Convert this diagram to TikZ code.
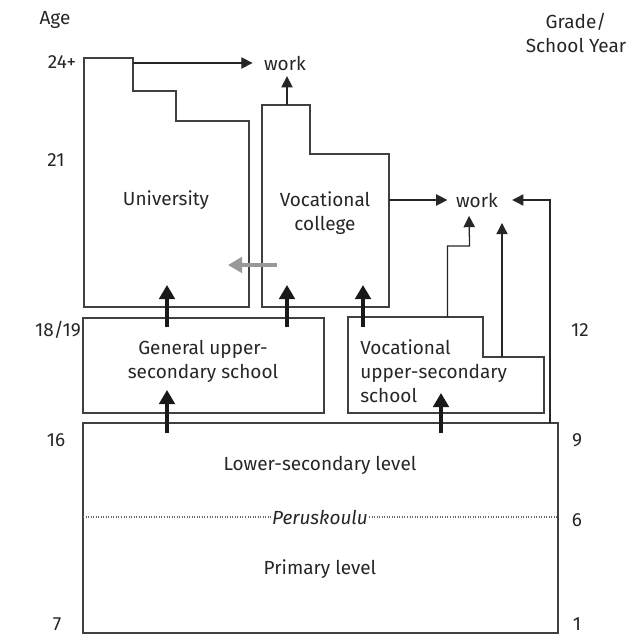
\documentclass[tikz,border=0pt]{standalone}
\usepackage{fontspec}
\setmainfont{Fira Sans}
\usetikzlibrary{arrows.meta}

\begin{document}
\begin{tikzpicture}[x=0.025cm, y=-0.025cm,
    outline/.style={draw=black!75, line width=0.9pt},
    flow/.style={draw=black!85, line width=0.9pt, -{Triangle[length=8pt,width=8pt]}},
    bigflow/.style={draw=black!90, line width=3pt, -{Triangle[length=10pt,width=11pt]}},
    greyflow/.style={draw=black!40, line width=3pt, -{Triangle[length=10pt,width=11pt]}},
    lbl/.style={text=black!85, font=\fontsize{13.5}{17}\selectfont, inner sep=0pt}]
    \useasboundingbox (0,0) rectangle (635,636);

    % Draw the school blocks
    \draw[outline] (84,307) -- (84,58) -- (133,58) -- (133,91) -- (176,91)
        -- (176,121) -- (249,121) -- (249,307) -- cycle;
    \draw[outline] (262,307) -- (262,105) -- (310,105) -- (310,154)
        -- (389,154) -- (389,307) -- cycle;
    \draw[outline] (83,318) rectangle (324,413);
    \draw[outline] (348,413) -- (348,317) -- (483,317) -- (483,357)
        -- (544,357) -- (544,413) -- cycle;
    \draw[outline] (83,423) rectangle (558,633);
    \draw[black!60, line width=0.8pt, dash pattern=on 0.6pt off 1.2pt] (83,517) -- (558,517);

    % Block labels
    \node[lbl] (uni) at (166,200) {University};
    \node[lbl, align=center] (vcol) at (325,213) {Vocational\\college};
    \node[lbl, align=center] (gen) at (203,361) {General upper-\\secondary school};
    \node[lbl, align=left, anchor=west] (voc) at (360,371) {Vocational\\upper-secondary\\school};
    \node[lbl] (lower) at (320,465) {Lower-secondary level};
    \node[lbl, fill=white, inner xsep=1pt, font=\fontsize{13.5}{17}\selectfont\itshape] (perus) at (320,517) {Peruskoulu};
    \node[lbl] (primary) at (320,569) {Primary level};

    % Work destinations
    \node[lbl] (work1) at (285,63) {work};
    \node[lbl] (work2) at (477,200) {work};

    % Connector end points
    \coordinate (uni-out) at (133,63);
    \coordinate (vcol-top) at (287,105);
    \coordinate (vcol-out) at (389,200);
    \coordinate (voc-out1) at (447.5,317);
    \coordinate (voc-out2) at (502,357);
    \coordinate (lower-out) at (550,423);
    \coordinate (gen-a) at (167,327);
    \coordinate (gen-b) at (287,327);
    \coordinate (voc-a) at (363,327);
    \coordinate (lower-a) at (167,433);
    \coordinate (lower-b) at (441,433);
    \coordinate (vcol-side) at (277,265);

    % Thin arrows to work
    \draw[flow, shorten >=8pt] (uni-out) -- (uni-out -| work1.west);
    \draw[flow, shorten >=4pt] (vcol-top) -- (vcol-top |- work1.south);
    \draw[flow, shorten >=6pt] (vcol-out) -- (vcol-out -| work2.west);
    \draw[flow, shorten >=10pt] (lower-out) |- (work2.east);
    \draw[flow, shorten >=6pt] (voc-out1) |- ++(22,-71) -- ([xshift=-2mm]work2.south);
    \draw[flow, shorten >=11pt] (voc-out2) -- (voc-out2 |- work2.south);

    % Thick arrows between levels
    \draw[bigflow] (gen-a) -- ++(0,-42);
    \draw[bigflow] (gen-b) -- ++(0,-42);
    \draw[bigflow] (voc-a) -- ++(0,-42);
    \draw[bigflow] (lower-a) -- ++(0,-43);
    \draw[bigflow] (lower-b) -- ++(0,-40);
    \draw[greyflow] (vcol-side) -- ++(-49,0);

    % Age and grade scales
    \node[lbl] (age) at (55,20) {Age};
    \node[lbl] (age24) at (62,62) {24+};
    \node[lbl] (age21) at (56,160) {21};
    \node[lbl] (age18) at (58,330) {18/19};
    \node[lbl] (age16) at (56,440) {16};
    \node[lbl] (age7) at (57,624) {7};
    \node[lbl, align=center] (grade) at (576,33) {Grade/\\School Year};
    \node[lbl] (grade12) at (580,330) {12};
    \node[lbl] (grade9) at (577,440) {9};
    \node[lbl] (grade6) at (577,520) {6};
    \node[lbl] (grade1) at (577,624) {1};
\end{tikzpicture}
\end{document}
